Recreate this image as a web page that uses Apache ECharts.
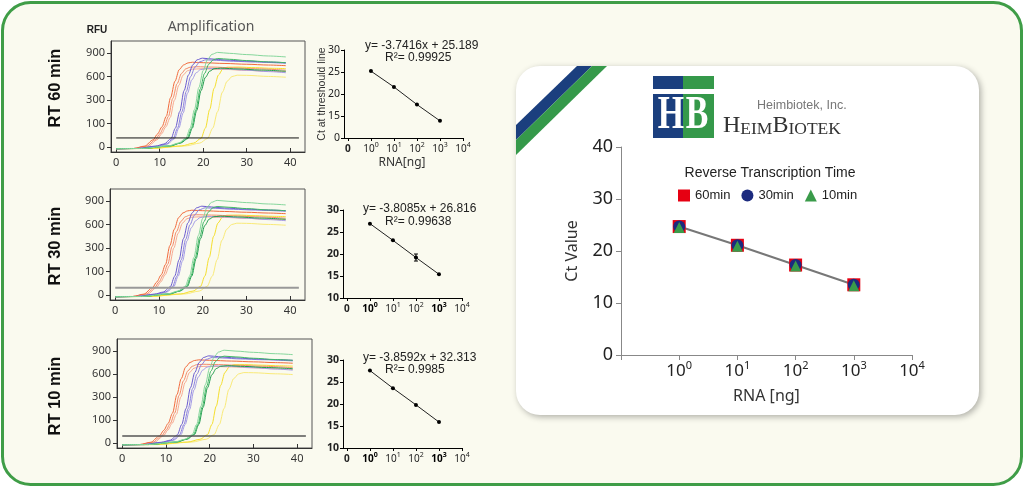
<!DOCTYPE html>
<html><head><meta charset="utf-8">
<script src="https://cdn.jsdelivr.net/npm/echarts@6/dist/echarts.min.js"></script>
<style>html,body{margin:0;padding:0;background:#fff}#c{width:1024px;height:487px}</style>
</head><body><div id="c"></div>
<script>
// ---------- DATA ----------
const AMP_X_TICKS = [0, 10, 20, 30, 40];
const AMP_Y_TICK_RFU = [0, 100, 300, 600, 900];
const STD_X_EXP = [-1, 0, 1, 2, 3, 4];
const STD_Y_TICKS = [10, 15, 20, 25, 30];
const STD_Y_LABELS_60 = ['0', '15', '20', '25', '30'];
const STD_Y_LABELS = ['10', '15', '20', '25', '30'];
const RNA_NG = [1, 10, 100, 1000];
const CT_60 = [25.2, 21.6, 17.6, 13.9];
const CT_30 = [26.9, 23.1, 19.2, 15.4];
const CT_30_ERR = [0, 0, 0.8, 0];
const CT_10 = [27.6, 23.6, 19.8, 15.9];
const EQ_60 = ['y= -3.7416x + 25.189', 'R²= 0.99925'];
const EQ_30 = ['y= -3.8085x + 26.816', 'R²= 0.99638'];
const EQ_10 = ['y= -3.8592x + 32.313', 'R²= 0.9985'];
const MAIN_CT_60 = [24.7, 21.1, 17.3, 13.5];
const MAIN_CT_30 = [24.7, 21.1, 17.3, 13.5];
const MAIN_CT_10 = [24.5, 20.9, 17.1, 13.3];
const THRESH_RFU = [38, 30, 30];
const ROW_LABELS = ['RT 60 min', 'RT 30 min', 'RT 10 min'];

// amplification curves: [cycle, RFU]
const CURVE_RED_A = [[0,-8],[4,-7],[6.5,3],[8.5,30],[9.5,55],[10.5,85],[11.5,160],[12.5,330],[13.5,540],[14.5,690],[15.5,750],[16.5,775],[17.5,784],[20,778],[25,768],[30,758],[35,748],[39,740]];
const CURVE_RED_B = [[0,-8],[4,-7],[7,3],[9,30],[10,55],[11,85],[12,160],[13,320],[14,510],[15,640],[16,700],[17,720],[18.5,726],[22,722],[27,712],[32,700],[39,682]];
const CURVE_RED_C = [[0,-8],[4,-7],[7.4,3],[9.4,30],[10.4,55],[11.4,85],[12.4,150],[13.4,300],[14.4,490],[15.4,620],[16.4,675],[17.5,695],[19.5,700],[25,692],[30,680],[35,668],[39,660]];
const CURVE_PUR_A = [[0,-8],[5,-7],[9,3],[11,12],[12.6,35],[13.6,80],[14.6,200],[15.6,420],[16.6,620],[17.6,750],[18.6,815],[19.8,836],[22,826],[25,812],[30,798],[35,786],[39,778]];
const CURVE_PUR_B = [[0,-8],[5,-7],[9.5,3],[11.5,12],[13.1,35],[14.1,80],[15.1,200],[16.1,410],[17.1,600],[18.1,720],[19.2,790],[20.6,815],[23,808],[27,796],[32,786],[39,770]];
const CURVE_PUR_C = [[0,-8],[5,-7],[9.8,3],[11.8,12],[13.4,35],[14.4,80],[15.4,190],[16.4,390],[17.4,560],[18.4,650],[19.4,690],[21,705],[25,698],[30,682],[35,664],[39,650]];
const CURVE_GRN_A = [[0,-8],[6,-7],[12,4],[14.3,16],[16,36],[17,80],[18,220],[19,460],[20,680],[21,820],[22,885],[23.3,910],[26,898],[30,882],[35,864],[39,852]];
const CURVE_GRN_B = [[0,-8],[6,-7],[12.3,4],[14.6,16],[16.3,36],[17.3,80],[18.3,215],[19.3,440],[20.3,640],[21.3,760],[22.3,815],[23.3,832],[26,822],[30,805],[35,788],[39,778]];
const CURVE_GRN_C = [[0,-8],[6,-7],[12.5,4],[14.8,16],[16.5,36],[17.5,80],[18.5,210],[19.5,420],[20.5,590],[21.5,670],[22.5,700],[24,708],[28,698],[33,684],[39,668]];
const CURVE_YEL_A = [[0,-8],[8,-7],[15,4],[17.8,16],[19.5,36],[20.5,80],[21.5,220],[22.5,450],[23.5,620],[24.5,695],[25.5,720],[28,722],[32,714],[36,706],[39,702]];
const CURVE_YEL_B = [[0,-8],[8,-7],[16,4],[19.2,16],[21,36],[22.2,80],[23.3,200],[24.4,400],[25.5,540],[26.6,600],[27.8,618],[30,616],[35,602],[39,592]];

const CURVES = [
  [CURVE_YEL_B, '#f9ea78'], [CURVE_YEL_A, '#f5df2e'],
  [CURVE_RED_C, '#f8a890'], [CURVE_RED_B, '#f58a6a'], [CURVE_RED_A, '#f26a3c'],
  [CURVE_PUR_C, '#a49ce6'], [CURVE_PUR_B, '#8a7fe0'], [CURVE_PUR_A, '#6a5bd0'],
  [CURVE_GRN_C, '#1e9b4c'], [CURVE_GRN_B, '#3fb865'], [CURVE_GRN_A, '#86d79c']
];

// ---------- HELPERS ----------
function rfuToAxis(v) {
  const t = AMP_Y_TICK_RFU;
  if (v <= t[0]) return v / (t[1] - t[0]);
  for (let i = 0; i < t.length - 1; i++) {
    if (v <= t[i + 1]) return i + (v - t[i]) / (t[i + 1] - t[i]);
  }
  const n = t.length - 1;
  return n + (v - t[n]) / (t[n] - t[n - 1]);
}
const FONT = 'Noto Sans';
const AX = '#333';

const ampGrids = [
  {left: 111, top: 41, width: 194, height: 111, tcol: '#111', tw: 1},
  {left: 110, top: 189, width: 195, height: 111, tcol: '#999', tw: 2},
  {left: 117, top: 339, width: 195, height: 109, tcol: '#555', tw: 1.5}
];
const stdGrids = [
  {left: 344, top: 50, width: 119, height: 88},
  {left: 343, top: 210, width: 119, height: 88},
  {left: 343, top: 360, width: 119, height: 88}
];
const mainGrid = {left: 621, top: 147, width: 291, height: 208};

const grid = [];
const xAxis = [];
const yAxis = [];
const series = [];

ampGrids.forEach((g, k) => {
  grid.push({left: g.left, top: g.top, width: g.width, height: g.height, show: true, borderColor: '#555', borderWidth: 1, backgroundColor: 'transparent'});
  xAxis.push({type: 'value', gridIndex: k, min: -1.2, max: 43.4,
    axisLine: {show: true, onZero: false, lineStyle: {color: AX}},
    axisTick: {show: true, inside: true, length: 4, customValues: AMP_X_TICKS, lineStyle: {color: AX}},
    axisLabel: {customValues: AMP_X_TICKS, fontSize: 11, color: '#333', margin: 5, fontFamily: FONT},
    splitLine: {show: false}});
  yAxis.push({type: 'value', gridIndex: k, min: -0.22, max: 4.52,
    axisLine: {show: true, onZero: false, lineStyle: {color: AX}},
    axisTick: {show: true, length: 4, customValues: [0, 1, 2, 3, 4], lineStyle: {color: AX}},
    axisLabel: {customValues: [0, 1, 2, 3, 4], formatter: v => String(AMP_Y_TICK_RFU[Math.round(v)]), fontSize: 11, color: '#333', margin: 6, fontFamily: FONT},
    splitLine: {show: false}});
  CURVES.forEach(([c, col]) => {
    series.push({type: 'line', xAxisIndex: k, yAxisIndex: k, silent: true, showSymbol: false, symbol: 'none',
      smooth: 0.3, smoothMonotone: 'x', lineStyle: {color: col, width: 1},
      data: c.map(p => [p[0], rfuToAxis(p[1])])});
  });
  series.push({type: 'line', xAxisIndex: k, yAxisIndex: k, silent: true, symbol: 'none',
    lineStyle: {color: g.tcol, width: g.tw}, z: 3,
    data: [[0, rfuToAxis(THRESH_RFU[k])], [42, rfuToAxis(THRESH_RFU[k])]]});
});

const stdData = [CT_60, CT_30, CT_10];
stdGrids.forEach((g, j) => {
  const k = 3 + j;
  const boldEx = j > 0;
  grid.push({left: g.left, top: g.top, width: g.width, height: g.height, show: false});
  xAxis.push({type: 'value', gridIndex: k, min: -1.17, max: 4,
    axisLine: {show: true, onZero: false, lineStyle: {color: '#000'}},
    axisTick: {show: true, length: 3, customValues: STD_X_EXP, lineStyle: {color: '#000'}},
    axisLabel: {customValues: STD_X_EXP, margin: 3, fontFamily: FONT,
      formatter: v => {
        if (v === -1) return '{n|0}';
        const bb = boldEx && (v === 0 || v === 3);
        return (bb ? '{bb|10}{sb|' : '{b|10}{s|') + v + '}';
      },
      rich: {
        n: {fontSize: 10, color: '#222', lineHeight: 13, verticalAlign: 'bottom', fontWeight: 'bold'},
        b: {fontSize: 10, color: '#222', lineHeight: 13, verticalAlign: 'bottom'},
        s: {fontSize: 7, color: '#222', lineHeight: 13, verticalAlign: 'top'},
        bb: {fontSize: 10, color: '#000', lineHeight: 13, verticalAlign: 'bottom', fontWeight: 'bold'},
        sb: {fontSize: 7, color: '#000', lineHeight: 13, verticalAlign: 'top', fontWeight: 'bold'}
      }},
    splitLine: {show: false}});
  const labs = j === 0 ? STD_Y_LABELS_60 : STD_Y_LABELS;
  yAxis.push({type: 'value', gridIndex: k, min: 10, max: 30, interval: 5,
    axisLine: {show: true, onZero: false, lineStyle: {color: '#000'}},
    axisTick: {show: true, length: 3, lineStyle: {color: '#000'}},
    axisLabel: {formatter: v => labs[STD_Y_TICKS.indexOf(v)], fontSize: 10.5, color: '#222', margin: 4,
      fontFamily: FONT, fontWeight: j > 0 ? 'bold' : 'normal'},
    splitLine: {show: false}});
  series.push({type: 'line', xAxisIndex: k, yAxisIndex: k, silent: true, symbol: 'circle', symbolSize: 4,
    itemStyle: {color: '#000'}, lineStyle: {color: '#222', width: 1},
    data: RNA_NG.map((r, i) => [Math.log10(r), stdData[j][i]])});
});

// error bars (RT 30 min)
series.push({type: 'custom', xAxisIndex: 4, yAxisIndex: 4, silent: true, z: 4,
  data: RNA_NG.map((r, i) => [Math.log10(r), CT_30[i] - CT_30_ERR[i], CT_30[i] + CT_30_ERR[i]]).filter(d => d[2] > d[1]),
  renderItem: (params, api) => {
    const lo = api.coord([api.value(0), api.value(1)]);
    const hi = api.coord([api.value(0), api.value(2)]);
    const st = {stroke: '#000', lineWidth: 1};
    return {type: 'group', children: [
      {type: 'line', shape: {x1: lo[0], y1: lo[1], x2: hi[0], y2: hi[1]}, style: st},
      {type: 'line', shape: {x1: lo[0] - 2, y1: lo[1], x2: lo[0] + 2, y2: lo[1]}, style: st},
      {type: 'line', shape: {x1: hi[0] - 2, y1: hi[1], x2: hi[0] + 2, y2: hi[1]}, style: st}
    ]};
  }});

// main chart
grid.push({left: mainGrid.left, top: mainGrid.top, width: mainGrid.width, height: mainGrid.height, show: false});
xAxis.push({type: 'value', gridIndex: 6, min: -1, max: 4, interval: 1,
  name: 'RNA [ng]', nameLocation: 'middle', nameGap: 33,
  nameTextStyle: {fontSize: 16, color: '#333', fontFamily: FONT},
  axisLine: {show: true, onZero: false, lineStyle: {color: '#888'}},
  axisTick: {show: true, length: 5, lineStyle: {color: '#888'}},
  axisLabel: {margin: 5, fontFamily: FONT,
    formatter: v => v === -1 ? '' : '{b|10}{s|' + v + '}',
    rich: {
      b: {fontSize: 17, color: '#222', lineHeight: 20, verticalAlign: 'bottom', fontFamily: FONT},
      s: {fontSize: 11, color: '#222', lineHeight: 20, verticalAlign: 'top', fontFamily: FONT}
    }},
  splitLine: {show: false}});
yAxis.push({type: 'value', gridIndex: 6, min: 0, max: 40, interval: 10,
  name: 'Ct Value', nameLocation: 'middle', nameGap: 41,
  nameTextStyle: {fontSize: 16, color: '#333', fontFamily: FONT},
  axisLine: {show: true, onZero: false, lineStyle: {color: '#888'}},
  axisTick: {show: true, length: 5, lineStyle: {color: '#888'}},
  axisLabel: {fontSize: 18, color: '#222', margin: 8, fontFamily: FONT},
  splitLine: {show: false}});
const xs = RNA_NG.map(r => Math.log10(r));
series.push({type: 'line', name: 'fit', xAxisIndex: 6, yAxisIndex: 6, silent: true, symbol: 'none',
  lineStyle: {color: '#777', width: 2}, data: xs.map((x, i) => [x, MAIN_CT_60[i]])});
series.push({type: 'scatter', name: '60min', xAxisIndex: 6, yAxisIndex: 6, symbol: 'rect', symbolSize: 13,
  itemStyle: {color: '#e60012', opacity: 1}, z: 3, data: xs.map((x, i) => [x, MAIN_CT_60[i]])});
series.push({type: 'scatter', name: '30min', xAxisIndex: 6, yAxisIndex: 6, symbol: 'circle', symbolSize: 12,
  itemStyle: {color: '#1c2b7f', opacity: 1}, z: 4, data: xs.map((x, i) => [x, MAIN_CT_30[i]])});
series.push({type: 'scatter', name: '10min', xAxisIndex: 6, yAxisIndex: 6, symbol: 'triangle', symbolSize: 11,
  itemStyle: {color: '#3a9b4a', opacity: 1}, z: 5, data: xs.map((x, i) => [x, MAIN_CT_10[i]])});

// ---------- GRAPHICS ----------
const txt = (x, y, text, o = {}) => ({type: 'text', x, y, z: o.z || 10, rotation: o.rot || 0,
  scaleX: o.sx || 1, scaleY: o.sy || 1,
  style: Object.assign({text, fill: o.color || '#222', fontSize: o.size || 12, fontFamily: o.font || FONT,
    fontWeight: o.weight || 'normal', align: o.align || 'center', verticalAlign: 'middle'}, o.extra || {})});

const graphic = [
  {type: 'rect', z: -20, shape: {x: 2.5, y: 2.5, width: 1019, height: 482, r: 28},
    style: {fill: '#fafaef', stroke: '#3f9d47', lineWidth: 3}},
  {type: 'rect', z: -15, shape: {x: 516, y: 66, width: 463, height: 349, r: 24},
    style: {fill: '#ffffff', shadowBlur: 6, shadowColor: 'rgba(0,0,0,0.3)', shadowOffsetX: 2, shadowOffsetY: 2}},
  {type: 'polygon', z: -14, shape: {points: [[577, 66], [592, 66], [516, 140], [516, 125]]}, style: {fill: '#1b3f7e'}},
  {type: 'polygon', z: -14, shape: {points: [[592, 66], [607, 66], [516, 155], [516, 140]]}, style: {fill: '#35994a'}},
  // logo
  {type: 'rect', z: 5, shape: {x: 653, y: 76, width: 30, height: 13}, style: {fill: '#1b3f7e'}},
  {type: 'rect', z: 5, shape: {x: 683, y: 76, width: 31, height: 13}, style: {fill: '#35994a'}},
  {type: 'rect', z: 5, shape: {x: 653, y: 94, width: 30, height: 44}, style: {fill: '#1b3f7e'}},
  {type: 'rect', z: 5, shape: {x: 683, y: 94, width: 31, height: 44}, style: {fill: '#35994a'}},
  txt(671, 116, 'H', {color: '#fff', size: 47, font: 'Liberation Serif', weight: 'bold', sx: 0.72}),
  txt(697, 116, 'B', {color: '#fff', size: 47, font: 'Liberation Serif', weight: 'bold', sx: 0.72}),
  txt(757, 106, 'Heimbiotek, Inc.', {color: '#777', size: 12.5, align: 'left', font: 'Liberation Sans'}),
  txt(723, 126, '{a|H}{b|EIM}{a|B}{b|IOTEK}', {align: 'left', color: '#333', extra: {rich: {
    a: {fontSize: 24, fontFamily: 'Liberation Serif', fill: '#333', verticalAlign: 'bottom', lineHeight: 24},
    b: {fontSize: 17.5, fontFamily: 'Liberation Serif', fill: '#333', verticalAlign: 'bottom', lineHeight: 24}}}}),
  // legend title
  txt(770, 173, 'Reverse Transcription Time', {size: 14, font: 'Liberation Sans', color: '#222'}),
  // left titles
  txt(211, 27, 'Amplification', {size: 14, color: '#555'}),
  txt(97, 30, 'RFU', {size: 10, weight: 'bold', color: '#222', font: 'Liberation Sans'}),
  txt(322, 94, 'Ct at threshould line', {size: 10.5, rot: Math.PI / 2, color: '#333', font: 'Liberation Sans'}),
  txt(402, 163, 'RNA[ng]', {size: 12, color: '#333'})
];
const rowY = [88, 246, 396];
ROW_LABELS.forEach((t, i) => graphic.push(txt(55, rowY[i], t, {size: 16.5, weight: 'bold', color: '#111', font: 'Liberation Sans', rot: Math.PI / 2})));
const eqs = [EQ_60, EQ_30, EQ_10];
const eqY = [[46, 58], [209, 222], [358, 370]];
const eqX = [[365, 385], [363, 385], [363, 385]];
eqs.forEach((e, i) => {
  graphic.push(txt(eqX[i][0], eqY[i][0], e[0], {size: 12, align: 'left', color: '#222', font: 'Liberation Sans'}));
  graphic.push(txt(eqX[i][1], eqY[i][1], e[1], {size: 12, align: 'left', color: '#222', font: 'Liberation Sans'}));
});

const option = {
  animation: false,
  textStyle: {fontFamily: FONT},
  grid, xAxis, yAxis, series, graphic,
  legend: {data: ['60min', '30min', '10min'], left: 673, top: 184, itemWidth: 12, itemHeight: 12, itemGap: 11,
    textStyle: {fontSize: 13, color: '#222', fontFamily: 'Liberation Sans'}, selectedMode: false}
};
const chart = echarts.init(document.getElementById('c'));
chart.setOption(option);
</script>
</body></html>
